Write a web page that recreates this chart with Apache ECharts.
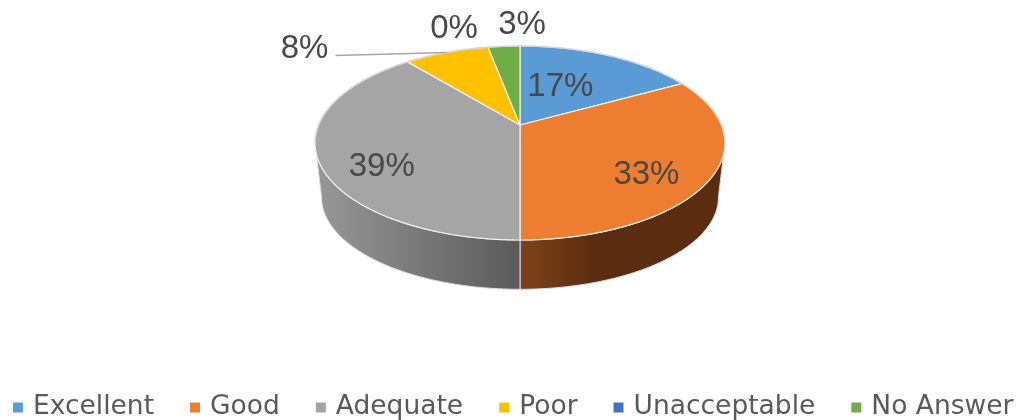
<!DOCTYPE html>
<html>
<head>
<meta charset="utf-8">
<style>
  html, body { margin: 0; padding: 0; background: #fff; }
  #chart { width: 1020px; height: 420px; }
</style>
</head>
<body>
<div id="chart"></div>
<script src="https://cdn.jsdelivr.net/npm/echarts@6/dist/echarts.min.js"></script>
<script>
// data
const categories = ['Excellent', 'Good', 'Adequate', 'Poor', 'Unacceptable', 'No Answer'];
const values = [17, 33, 39, 8, 0, 3];

// colours
const topColors = ['#5b9bd5', '#ed7d31', '#a5a5a5', '#ffc000', '#4472c4', '#70ad47'];
const wallColors = [
  ['#2f5d86', '#2f5d86', 0.5],
  ['#7e4219', '#5b2d10', 0.36],
  ['#989898', '#5a5a5a', 1],
  ['#8a6800', '#8a6800', 0.5],
  ['#24407a', '#24407a', 0.5],
  ['#3f6628', '#3f6628', 0.5]
];

// perspective of the tilted disc
const CX = 520;
const TOP_Y = 125;
const TILT = 0.1856;
const TOP_RX = 201.4;
const TOP_RY = 93.66;
const BASE_Y = 180;
const BASE_RX = 195;
const BASE_RY = 89;
// angle where the rim turns away from the viewer
const EDGE = Math.acos(-TILT);

// label offset from the rim point in the middle of each slice
const labelOffsets = [[-48, 31], [-65, -3], [64, 8], [-142, -4], [-34, -18], [18, -21]];
const leaderFlags = [false, false, false, true, false, false];

const total = values.reduce((a, b) => a + b, 0);

function project(angle, r, oy, rx, ry) {
  const u = Math.sin(angle) * r;
  const v = Math.cos(angle) * r;
  const w = 1 + TILT * v;
  return [CX + rx * u / w, oy - ry * v / w];
}
const topPoint = (a) => project(a, 1, TOP_Y, TOP_RX, TOP_RY);
const basePoint = (a) => project(a, 1, BASE_Y, BASE_RX, BASE_RY);

function sampleAngles(a0, a1) {
  const n = Math.max(2, Math.ceil((a1 - a0) / 0.01));
  const list = [];
  for (let i = 0; i <= n; i++) list.push(a0 + (a1 - a0) * i / n);
  return list;
}

function makeRenderItem(index) {
  return function (params, api) {
    const value = api.value(0);
    const before = values.slice(0, index).reduce((a, b) => a + b, 0);
    const a0 = before / total * Math.PI * 2;
    const a1 = (before + value) / total * Math.PI * 2;
    const angles = sampleAngles(a0, a1);
    const children = [];

    if (value > 0) {
      // side wall, only the part that faces the viewer
      const w0 = Math.max(a0, EDGE);
      const w1 = Math.min(a1, Math.PI * 2 - EDGE);
      if (w1 > w0) {
        const wall = wallColors[index];
        const wallAngles = sampleAngles(w0, w1);
        children.push({
          type: 'polygon',
          z2: 1,
          shape: { points: wallAngles.map(topPoint).concat(wallAngles.slice().reverse().map(basePoint)) },
          style: {
            fill: {
              type: 'linear', x: 0, y: 0, x2: 1, y2: 0,
              colorStops: [
                { offset: 0, color: wall[0] },
                { offset: wall[2], color: wall[1] },
                { offset: 1, color: wall[1] }
              ]
            },
            stroke: '#dddddd',
            lineWidth: 1
          }
        });
      }
      // top face
      children.push({
        type: 'polygon',
        z2: 10,
        shape: { points: [[CX, TOP_Y]].concat(angles.map(topPoint)) },
        style: { fill: topColors[index], stroke: '#f2f2f2', lineWidth: 1.2 }
      });
      // grey rim along the far side
      const farAngles = angles.filter((a) => a <= EDGE || a >= Math.PI * 2 - EDGE);
      if (farAngles.length > 1) {
        children.push({
          type: 'polyline',
          z2: 11,
          shape: { points: farAngles.map(topPoint) },
          style: { fill: null, stroke: '#d4d4d4', lineWidth: 1.4 }
        });
      }
    }

    const mid = topPoint((a0 + a1) / 2);
    const off = labelOffsets[index];
    const lx = mid[0] + off[0];
    const ly = mid[1] + off[1];
    if (leaderFlags[index]) {
      children.push({
        type: 'polyline',
        z2: 12,
        shape: { points: [[lx + 31, ly + 7], mid] },
        style: { fill: null, stroke: '#a6a6a6', lineWidth: 1.5 }
      });
    }
    children.push({
      type: 'text',
      z2: 20,
      x: lx,
      y: ly,
      style: {
        text: Math.round(value / total * 100) + '%',
        font: '33px "Liberation Sans", Arial, sans-serif',
        fill: '#484848',
        align: 'center',
        verticalAlign: 'middle'
      }
    });
    return { type: 'group', children: children };
  };
}

const chart = echarts.init(document.getElementById('chart'), null, { renderer: 'canvas' });

chart.setOption({
  backgroundColor: '#fff',
  animation: false,
  color: topColors,
  tooltip: { show: false },
  legend: {
    data: categories,
    left: 8,
    top: 389,
    icon: 'rect',
    itemWidth: 10,
    itemHeight: 10,
    itemGap: 36,
    textStyle: {
      fontFamily: '"DejaVu Sans", sans-serif',
      fontSize: 26.5,
      color: '#595959',
      padding: [0, 0, 0, 5]
    },
    selectedMode: false
  },
  series: categories.map((name, i) => ({
    type: 'custom',
    name: name,
    coordinateSystem: 'none',
    silent: true,
    renderItem: makeRenderItem(i),
    data: [[values[i]]]
  }))
});
</script>
</body>
</html>
